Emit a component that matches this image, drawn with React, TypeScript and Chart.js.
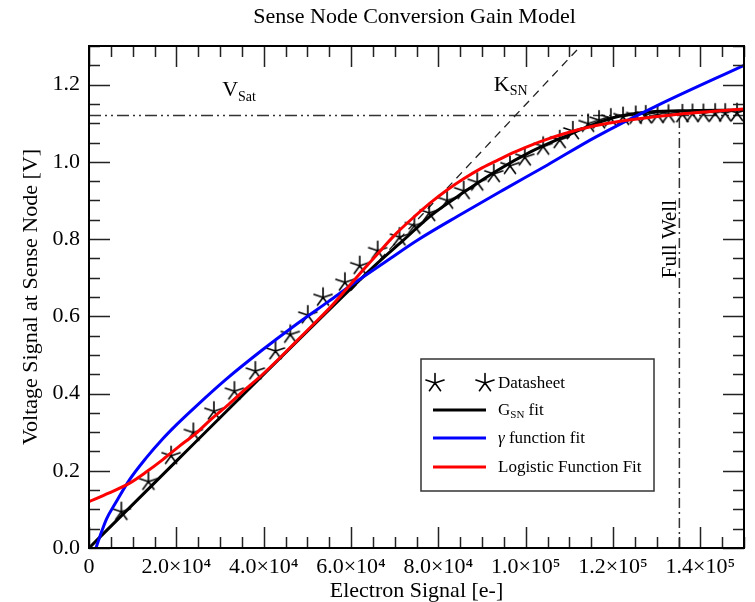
import React, { useEffect, useRef } from "react";
import { Chart, registerables } from "chart.js";

Chart.register(...registerables);

const FONT = "'Liberation Serif', 'Times New Roman', 'DejaVu Serif', serif";

const titleText = "Sense Node Conversion Gain Model";
const xAxisTitle = "Electron Signal [e-]";
const yAxisTitle = "Voltage Signal at Sense Node [V]";

const xMin = 0;
const xMax = 150000;
const yMin = 0;
const yMax = 1.3;

const xTickValues = [0, 20000, 40000, 60000, 80000, 100000, 120000, 140000];
const xTickLabels = ["0", "2.0×10⁴", "4.0×10⁴", "6.0×10⁴", "8.0×10⁴", "1.0×10⁵", "1.2×10⁵", "1.4×10⁵"];
const yTickValues = [0, 0.2, 0.4, 0.6, 0.8, 1.0, 1.2];
const yTickLabels = ["0.0", "0.2", "0.4", "0.6", "0.8", "1.0", "1.2"];

// Datasheet points
const dataX = [7400, 13600, 18800, 23900, 28600, 33300, 38100, 42700, 46100, 50100, 53600, 58600, 62000, 66100, 71100, 74500, 77900, 82000, 85800, 88900, 92700, 96400, 99800, 104000, 107800, 110800, 114300, 116800, 119500, 122300, 125200, 127500, 130200, 132700, 135900, 138200, 140700, 143400, 145700, 148400];
const dataY = [0.094, 0.172, 0.239, 0.299, 0.354, 0.406, 0.458, 0.51, 0.553, 0.603, 0.649, 0.688, 0.731, 0.77, 0.805, 0.835, 0.868, 0.9, 0.925, 0.947, 0.969, 0.99, 1.012, 1.04, 1.057, 1.08, 1.099, 1.108, 1.113, 1.117, 1.12, 1.121, 1.122, 1.123, 1.124, 1.125, 1.125, 1.126, 1.126, 1.127];

// G_SN fit
const gsnX = [0, 60000, 66000, 72000, 78300, 85800, 93400, 101000, 108600, 116000, 121400, 127000, 135000, 150000];
const gsnY = [0, 0.672, 0.737, 0.797, 0.861, 0.921, 0.977, 1.025, 1.064, 1.099, 1.118, 1.128, 1.132, 1.134];

// gamma function fit
const gammaX = [1600, 2500, 4000, 6000, 9300, 13000, 16900, 20000, 24500, 31300, 39600, 47200, 54800, 61000, 68000, 75200, 85000, 95000, 105000, 116000, 130000, 150000];
const gammaY = [0, 0.03, 0.075, 0.115, 0.177, 0.232, 0.283, 0.319, 0.367, 0.436, 0.512, 0.577, 0.638, 0.688, 0.742, 0.797, 0.863, 0.928, 0.992, 1.064, 1.145, 1.25];

// Logistic function fit
const logX = [0, 4500, 9300, 13000, 16900, 20500, 24500, 28000, 32000, 35500, 39600, 43500, 47200, 51000, 54800, 58600, 62300, 66900, 70500, 74500, 78300, 82000, 85800, 89500, 93400, 97000, 101000, 104800, 108600, 112000, 116100, 122000, 129000, 136600, 143000, 150000];
const logY = [0.12, 0.142, 0.168, 0.196, 0.229, 0.262, 0.297, 0.334, 0.372, 0.408, 0.448, 0.49, 0.532, 0.575, 0.618, 0.666, 0.714, 0.772, 0.816, 0.858, 0.895, 0.927, 0.956, 0.981, 1.003, 1.023, 1.042, 1.058, 1.072, 1.083, 1.094, 1.106, 1.116, 1.125, 1.131, 1.137];

// Reference lines
const vSat = 1.12;
const fullWell = 135200;
const ksnX = [60000, 112600];
const ksnY = [0.667, 1.3];

const legendLabels = ["Datasheet", "fit", "function fit", "Logistic Function Fit"];

const toPts = (xs: number[], ys: number[]) => xs.map((x, i) => ({ x, y: ys[i] }));

function makeStar(): HTMLCanvasElement {
  const c = document.createElement("canvas");
  c.width = 22;
  c.height = 22;
  const g = c.getContext("2d")!;
  g.strokeStyle = "#000";
  g.lineWidth = 1.6;
  g.lineCap = "round";
  const cx = 11, cy = 11, r = 9.5;
  g.beginPath();
  for (let k = 0; k < 5; k++) {
    const a = (-90 + 72 * k) * Math.PI / 180;
    g.moveTo(cx, cy);
    g.lineTo(cx + r * Math.cos(a), cy + r * Math.sin(a));
  }
  g.stroke();
  return c;
}

function drawSub(ctx: CanvasRenderingContext2D, main: string, sub: string, x: number, y: number, mainSize: number, subSize: number, dy: number, italic = false) {
  ctx.font = `${italic ? "italic " : ""}${mainSize}px ${FONT}`;
  ctx.fillText(main, x, y);
  const w = ctx.measureText(main).width;
  ctx.font = `${subSize}px ${FONT}`;
  ctx.fillText(sub, x + w, y + dy);
  return x + w + ctx.measureText(sub).width;
}

export default function App() {
  const ref = useRef<HTMLCanvasElement>(null);

  useEffect(() => {
    document.body.style.margin = "0";
    const canvas = ref.current!;
    const star = makeStar();

    const decor = {
      id: "decor",
      afterDraw(chart: any) {
        const ctx: CanvasRenderingContext2D = chart.ctx;
        const { left, right, top, bottom } = chart.chartArea;
        const xs = chart.scales.x;
        const ys = chart.scales.y;
        ctx.save();

        // minor / major ticks, inward on all sides
        ctx.strokeStyle = "#222";
        ctx.lineWidth = 1.5;
        ctx.beginPath();
        let i = 0;
        for (let v = xMin; v <= xMax + 1; v += 5000, i++) {
          const px = Math.round(xs.getPixelForValue(v)) + 0.5;
          const len = i % 4 === 0 ? 21 : 11;
          ctx.moveTo(px, bottom);
          ctx.lineTo(px, bottom - len);
          ctx.moveTo(px, top);
          ctx.lineTo(px, top + len);
        }
        i = 0;
        for (let k = 0; k <= 26; k++, i++) {
          const v = k * 0.05;
          const py = Math.round(ys.getPixelForValue(v)) + 0.5;
          const len = i % 4 === 0 ? 21 : 11;
          ctx.moveTo(left, py);
          ctx.lineTo(left + len, py);
          ctx.moveTo(right, py);
          ctx.lineTo(right - len, py);
        }
        ctx.stroke();

        // frame
        ctx.strokeStyle = "#000";
        ctx.lineWidth = 2;
        ctx.strokeRect(left, top, right - left, bottom - top);

        ctx.fillStyle = "#000";
        // title
        ctx.font = `22px ${FONT}`;
        ctx.textAlign = "center";
        ctx.textBaseline = "alphabetic";
        ctx.fillText(titleText, (left + right) / 2 - 2, 23);
        // x axis title
        ctx.fillText(xAxisTitle, (left + right) / 2, 597);
        // y axis title
        ctx.save();
        ctx.translate(37, (top + bottom) / 2);
        ctx.rotate(-Math.PI / 2);
        ctx.fillText(yAxisTitle, 0, 0);
        ctx.restore();

        // annotations
        ctx.textAlign = "left";
        drawSub(ctx, "V", "Sat", xs.getPixelForValue(30500), ys.getPixelForValue(1.171), 22, 14, 5);
        drawSub(ctx, "K", "SN", xs.getPixelForValue(92700), ys.getPixelForValue(1.184), 22, 14, 4);
        ctx.save();
        ctx.translate(xs.getPixelForValue(134500), ys.getPixelForValue(0.8));
        ctx.rotate(-Math.PI / 2);
        ctx.textAlign = "center";
        ctx.font = `21px ${FONT}`;
        ctx.fillText("Full Well", 0, 0);
        ctx.restore();

        // legend
        const lx = 421, ly = 359, lw = 233, lh = 132;
        ctx.fillStyle = "#fff";
        ctx.fillRect(lx, ly, lw, lh);
        ctx.strokeStyle = "#333";
        ctx.lineWidth = 1.5;
        ctx.strokeRect(lx, ly, lw, lh);
        ctx.drawImage(star, 435 - 11, 383 - 11);
        ctx.drawImage(star, 485 - 11, 383 - 11);
        const rows = [
          { y: 410, color: "#000" },
          { y: 438, color: "#0000ff" },
          { y: 467, color: "#ff0000" },
        ];
        ctx.lineWidth = 3;
        rows.forEach((r) => {
          ctx.strokeStyle = r.color;
          ctx.beginPath();
          ctx.moveTo(433, r.y);
          ctx.lineTo(486, r.y);
          ctx.stroke();
        });
        ctx.fillStyle = "#000";
        ctx.textAlign = "left";
        ctx.font = `17px ${FONT}`;
        ctx.fillText(legendLabels[0], 498, 388);
        const gx = drawSub(ctx, "G", "SN", 498, 415, 17, 11, 3);
        ctx.font = `17px ${FONT}`;
        ctx.fillText(" " + legendLabels[1], gx, 415);
        ctx.font = `italic 17px ${FONT}`;
        ctx.fillText("γ", 498, 443);
        const gw = ctx.measureText("γ").width;
        ctx.font = `17px ${FONT}`;
        ctx.fillText(" " + legendLabels[2], 498 + gw, 443);
        ctx.fillText(legendLabels[3], 498, 472);

        ctx.restore();
      },
    };

    const lineDs = (label: string, xs: number[], ys: number[], color: string) => ({
      label,
      data: toPts(xs, ys),
      showLine: true,
      borderColor: color,
      backgroundColor: color,
      borderWidth: 3,
      pointRadius: 0,
      cubicInterpolationMode: "monotone" as const,
      fill: false,
    });

    const chart = new Chart(canvas, {
      type: "scatter",
      data: {
        datasets: [
          lineDs("Logistic Function Fit", logX, logY, "#ff0000"),
          lineDs("γ function fit", gammaX, gammaY, "#0000ff"),
          lineDs("GSN fit", gsnX, gsnY, "#000000"),
          {
            label: "Datasheet",
            data: toPts(dataX, dataY),
            showLine: false,
            pointStyle: star as any,
            pointRadius: 10,
            borderColor: "#000",
            backgroundColor: "#000",
          },
          {
            label: "KSN",
            data: toPts(ksnX, ksnY),
            showLine: true,
            borderColor: "#222",
            borderWidth: 1.3,
            borderDash: [8, 6],
            pointRadius: 0,
          },
          {
            label: "Full Well",
            data: toPts([fullWell, fullWell], [0, vSat]),
            showLine: true,
            borderColor: "#333",
            borderWidth: 1.5,
            borderDash: [10, 4, 2, 4],
            pointRadius: 0,
          },
          {
            label: "VSat",
            data: toPts([xMin, xMax], [vSat, vSat]),
            showLine: true,
            borderColor: "#333",
            borderWidth: 1.5,
            borderDash: [12, 4, 2, 4, 2, 4],
            pointRadius: 0,
          },
        ],
      },
      options: {
        responsive: false,
        maintainAspectRatio: false,
        animation: false,
        devicePixelRatio: 1,
        events: [],
        layout: { padding: { top: 46, right: 6, left: 0, bottom: 0 } },
        plugins: {
          legend: { display: false },
          title: { display: false },
          tooltip: { enabled: false },
        },
        scales: {
          x: {
            type: "linear",
            min: xMin,
            max: xMax,
            grid: { display: false, drawTicks: false },
            border: { display: false },
            afterBuildTicks: (s: any) => {
              s.ticks = xTickValues.map((v) => ({ value: v }));
            },
            afterFit: (s: any) => {
              s.height = 54;
            },
            ticks: {
              padding: 6,
              maxRotation: 0,
              autoSkip: false,
              color: "#000",
              font: { family: FONT, size: 22 },
              callback: (v: any) => {
                const idx = xTickValues.indexOf(Number(v));
                return idx >= 0 ? xTickLabels[idx] : "";
              },
            },
          },
          y: {
            type: "linear",
            min: yMin,
            max: yMax,
            grid: { display: false, drawTicks: false },
            border: { display: false },
            afterBuildTicks: (s: any) => {
              s.ticks = yTickValues.map((v) => ({ value: v }));
            },
            afterFit: (s: any) => {
              s.width = 89;
            },
            ticks: {
              padding: 9,
              autoSkip: false,
              color: "#000",
              font: { family: FONT, size: 22 },
              callback: (v: any) => {
                const idx = yTickValues.findIndex((t) => Math.abs(t - Number(v)) < 1e-9);
                return idx >= 0 ? yTickLabels[idx] : "";
              },
            },
          },
        },
      },
      plugins: [decor],
    });

    return () => chart.destroy();
  }, []);

  return (
    <div style={{ width: 755, height: 602 }}>
      <canvas ref={ref} width={755} height={602} style={{ display: "block" }} />
    </div>
  );
}
